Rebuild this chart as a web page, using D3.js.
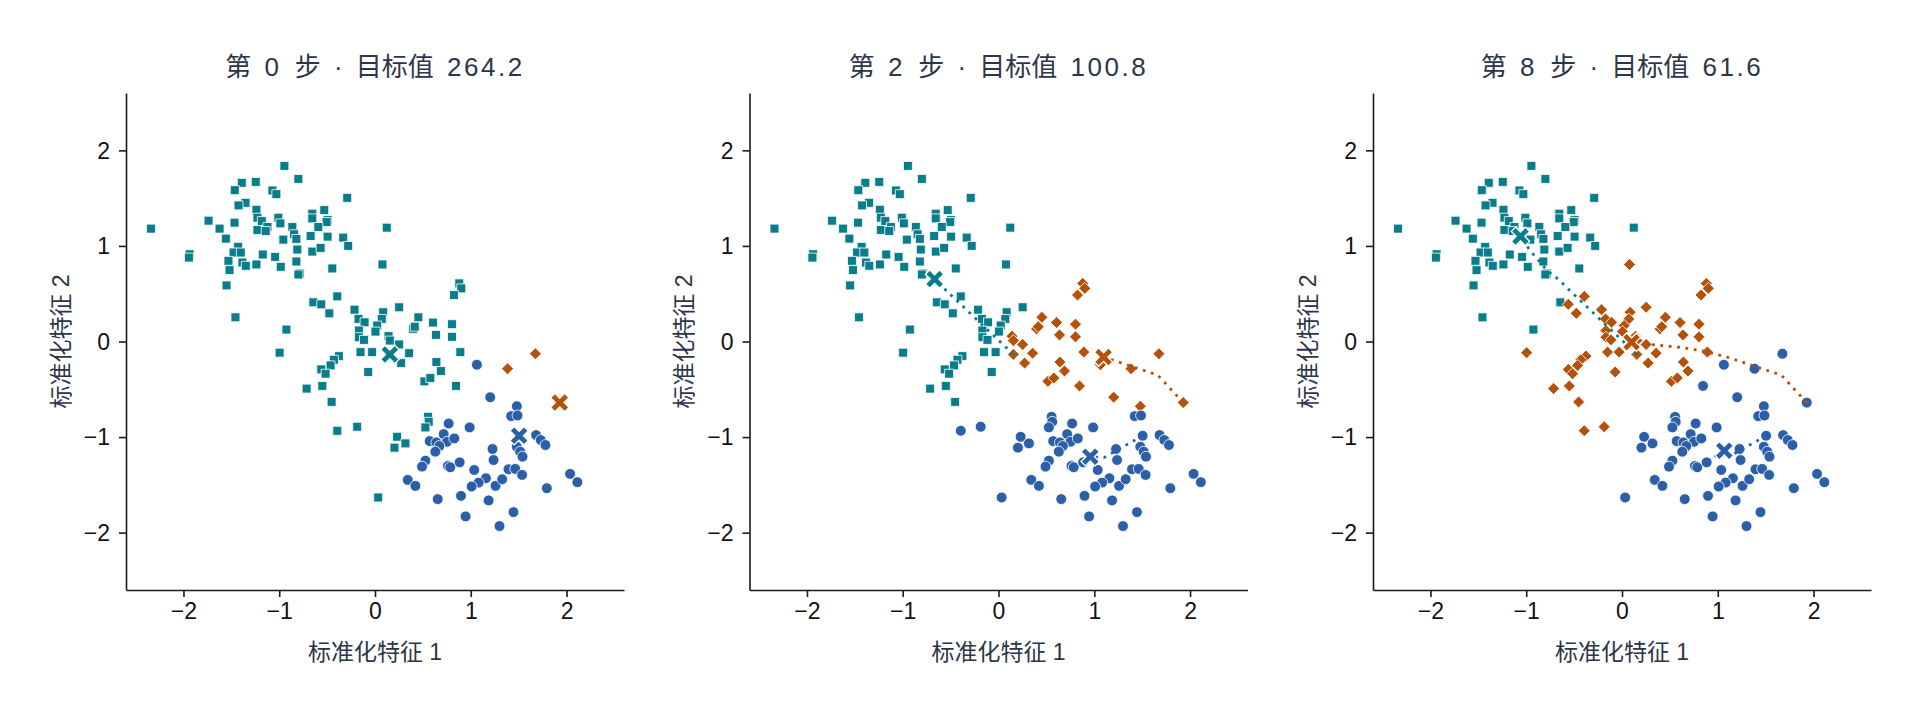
<!DOCTYPE html>
<html>
<head>
<meta charset="utf-8">
<script src="https://cdn.jsdelivr.net/npm/d3@7"></script>
<style>
  body { margin: 0; background: #fff; }
  svg text { font-family: "Liberation Sans", "Noto Sans CJK SC", sans-serif; }
</style>
</head>
<body>
<div id="chart"></div>
<script>
// k-means: three snapshots of the same standardized data
const stepNumbers = [0, 2, 8];
const objectiveValues = ["264.2", "100.8", "61.6"];
const tickValues = [-2, -1, 0, 1, 2];
const xLabel = "标准化特征 1";
const yLabel = "标准化特征 2";

// cluster order: T = teal (square), O = orange (diamond), B = blue (circle)
const clusterKeys = ["T", "O", "B"];
const clusterColors = ["#0a7d8b", "#b4520c", "#2b60a8"];

// [x, y, label at step 0, step 2, step 8]
const points = [
  // upper-left group, teal throughout
  [-0.946, 1.837, "TTT"], [-0.800, 1.701, "TTT"], [-1.391, 1.660, "TTT"], [-1.245, 1.670, "TTT"],
  [-1.464, 1.583, "TTT"], [-1.071, 1.580, "TTT"], [-1.030, 1.542, "TTT"], [-0.290, 1.503, "TTT"],
  [-1.352, 1.451, "TTT"], [-1.425, 1.424, "TTT"], [-1.238, 1.378, "TTT"], [-1.228, 1.295, "TTT"],
  [-1.182, 1.260, "TTT"], [-1.123, 1.198, "TTT"], [-1.228, 1.167, "TTT"], [-1.141, 1.156, "TTT"],
  [-1.009, 1.295, "TTT"], [-0.988, 1.236, "TTT"], [-0.863, 1.198, "TTT"], [-0.845, 1.122, "TTT"],
  [-0.821, 1.073, "TTT"], [-0.957, 1.066, "TTT"], [-0.655, 1.337, "TTT"], [-0.655, 1.288, "TTT"],
  [-0.530, 1.375, "TTT"], [-0.495, 1.271, "TTT"], [-0.505, 1.250, "TTT"], [-0.592, 1.198, "TTT"],
  [-0.672, 1.104, "TTT"], [-0.495, 1.097, "TTT"], [-0.332, 1.087, "TTT"], [-0.280, 1.000, "TTT"],
  [-1.738, 1.264, "TTT"], [-1.623, 1.181, "TTT"], [-1.467, 1.243, "TTT"], [-2.339, 1.181, "TTT"],
  [-1.557, 1.076, "TTT"], [-1.429, 0.990, "TTT"], [-1.477, 0.931, "TTT"], [-1.401, 0.931, "TTT"],
  [-1.530, 0.844, "TTT"], [-1.384, 0.826, "TTT"], [-1.349, 0.792, "TTT"], [-1.519, 0.747, "TTT"],
  [-1.172, 0.910, "TTT"], [-1.238, 0.806, "TTT"], [-1.043, 0.885, "TTT"], [-0.984, 0.781, "TTT"],
  [-0.811, 0.962, "TTT"], [-0.821, 0.837, "TTT"], [-0.655, 0.941, "TTT"], [-0.568, 0.979, "TTT"],
  [-0.786, 0.712, "TTT"], [-0.800, 0.701, "TTT"], [-0.446, 0.764, "TTT"], [0.123, 1.191, "TTT"],
  [-1.936, 0.913, "TTT"], [-1.943, 0.878, "TTT"], [-1.550, 0.587, "TTT"], [-1.457, 0.253, "TTT"],
  [-0.925, 0.125, "TTT"], [-0.644, 0.410, "TTT"],
  // middle band, teal then orange at the end
  [0.078, 0.806, "TTO"], [-0.996, -0.117, "TTO"], [-0.394, 0.472, "TTO"], [-0.561, 0.389, "TTO"],
  [-0.477, 0.295, "TTO"], [-0.214, 0.333, "TTO"], [0.252, 0.358, "TTO"], [0.085, 0.306, "TTO"],
  [0.071, 0.236, "TTO"], [-0.172, 0.236, "TTO"], [-0.109, 0.201, "TTO"], [0.023, 0.167, "TTO"],
  [0.005, 0.104, "TTO"], [-0.168, 0.115, "TTO"], [-0.168, 0.045, "TTO"], [-0.115, 0.017, "TTO"],
  [-0.151, -0.111, "TTO"], [-0.030, -0.111, "TTO"], [-0.377, -0.153, "TTO"], [-0.429, -0.191, "TTO"],
  [-0.464, -0.250, "TTO"], [-0.561, -0.292, "TTO"], [-0.516, -0.337, "TTO"], [-0.071, -0.319, "TTO"],
  [-0.714, -0.493, "TTO"], [-0.550, -0.465, "TTO"], [-0.453, -0.632, "TTO"],
  // right of centre, orange from step 2
  [0.880, 0.608, "TOO"], [0.901, 0.556, "TOO"], [0.825, 0.486, "TOO"], [0.453, 0.253, "TOO"],
  [0.398, 0.132, "TOO"], [0.415, 0.155, "TOO"], [0.606, 0.198, "TOO"], [0.804, 0.181, "TOO"],
  [0.141, 0.056, "TOO"], [0.155, 0.010, "TOO"], [0.637, 0.069, "TOO"], [0.804, 0.049, "TOO"],
  [0.252, -0.031, "TOO"], [0.356, -0.122, "TOO"], [0.891, -0.111, "TOO"], [0.273, -0.226, "TOO"],
  [0.641, -0.215, "TOO"], [0.689, -0.309, "TOO"], [0.516, -0.417, "TOO"], [0.578, -0.382, "TOO"],
  [0.155, -0.135, "TOO"],
  [0.846, -0.465, "TOB"],
  [-0.394, -0.934, "TBO"], [-0.186, -0.892, "TBO"],
  [0.554, -0.788, "TBB"], [0.561, -0.840, "TBB"], [0.526, -0.899, "TBB"], [0.231, -0.997, "TBB"],
  [0.318, -1.066, "TBB"], [0.203, -1.111, "TBB"], [0.033, -1.632, "TBB"],
  [1.384, -0.285, "OOB"], [1.675, -0.128, "OOB"], [1.929, -0.639, "OOB"],
  [1.064, -0.243, "BOB"], [1.203, -0.583, "BOB"], [1.481, -0.677, "BOB"],
  // lower-right group, blue throughout
  [1.422, -0.781, "BBB"], [1.488, -0.774, "BBB"], [0.769, -0.858, "BBB"], [0.988, -0.899, "BBB"],
  [1.682, -0.979, "BBB"], [1.731, -1.031, "BBB"], [1.780, -1.083, "BBB"], [0.571, -1.042, "BBB"],
  [0.641, -1.056, "BBB"], [0.717, -0.969, "BBB"], [0.752, -1.049, "BBB"], [0.828, -1.014, "BBB"],
  [0.672, -1.094, "BBB"], [0.630, -1.153, "BBB"], [1.227, -1.125, "BBB"], [1.238, -1.240, "BBB"],
  [1.481, -1.101, "BBB"], [1.516, -1.153, "BBB"], [1.540, -1.205, "BBB"], [0.526, -1.247, "BBB"],
  [0.491, -1.309, "BBB"], [0.762, -1.302, "BBB"], [0.786, -1.316, "BBB"], [0.884, -1.264, "BBB"],
  [1.036, -1.344, "BBB"], [0.342, -1.448, "BBB"], [0.422, -1.510, "BBB"], [1.158, -1.431, "BBB"],
  [1.082, -1.476, "BBB"], [1.009, -1.517, "BBB"], [1.259, -1.510, "BBB"], [1.328, -1.441, "BBB"],
  [1.394, -1.337, "BBB"], [1.464, -1.333, "BBB"], [1.536, -1.396, "BBB"], [1.794, -1.535, "BBB"],
  [2.037, -1.385, "BBB"], [2.113, -1.472, "BBB"], [0.655, -1.649, "BBB"], [0.898, -1.615, "BBB"],
  [1.186, -1.663, "BBB"], [1.446, -1.785, "BBB"], [0.946, -1.830, "BBB"], [1.300, -1.931, "BBB"],
  [1.505, -0.986, "BBB"]
];

// centroid positions at steps 0..8
const tealPath = [[0.155, -0.135], [-0.50, 0.49], [-0.667, 0.653], [-0.78, 0.74], [-0.88, 0.86],
  [-0.96, 0.95], [-1.01, 1.03], [-1.04, 1.07], [-1.06, 1.10]];
const orangePath = [[1.929, -0.639], [1.663, -0.351], [1.097, -0.163], [0.85, -0.10], [0.60, -0.06],
  [0.38, -0.04], [0.22, -0.02], [0.14, -0.01], [0.10, -0.007]];
const bluePath = [[1.505, -0.986], [1.10, -1.215], [0.958, -1.205], [1.01, -1.18], [1.04, -1.16],
  [1.055, -1.15], [1.062, -1.146], [1.066, -1.143], [1.068, -1.142]];
const centroidPaths = [tealPath, orangePath, bluePath];

const W = 1920, H = 704;
const plotW = 498, plotH = 497, plotTop = 93;
const panelLeft = [126, 749.5, 1373];
const inkColor = "#2d3648";

const svg = d3.select("#chart").append("svg")
  .attr("width", W)
  .attr("height", H);

const x = d3.scaleLinear().domain([-2.6, 2.6]).range([0, plotW]);
const y = d3.scaleLinear().domain([-2.6, 2.6]).range([plotH, 0]);
const fmt = d => (d < 0 ? "\u2212" + Math.abs(d) : String(d));

const symbols = [
  d3.symbol().type(d3.symbolSquare).size(80)(),
  d3.symbol().type(d3.symbolSquare).size(72)(),
  d3.symbol().type(d3.symbolCircle).size(92)()
];
const symbolRotate = [0, 45, 0];

// filled "X" marker
function crossPath(L, w) {
  const pts = [[L, w], [w, w], [w, L], [-w, L], [-w, w], [-L, w], [-L, -w], [-w, -w], [-w, -L], [w, -L], [w, -w], [L, -w]];
  const c = Math.SQRT1_2;
  return "M" + pts.map(([a, b]) => [(a - b) * c, (a + b) * c].join(",")).join("L") + "Z";
}

stepNumbers.forEach((step, i) => {
  const g = svg.append("g").attr("transform", `translate(${panelLeft[i]},${plotTop})`);

  // axes
  const ax = g.append("g").attr("transform", `translate(0,${plotH})`)
    .call(d3.axisBottom(x).tickValues(tickValues).tickFormat(fmt).tickSize(7).tickSizeOuter(0).tickPadding(6));
  const ay = g.append("g")
    .call(d3.axisLeft(y).tickValues(tickValues).tickFormat(fmt).tickSize(7).tickSizeOuter(0).tickPadding(9));
  [ax, ay].forEach(a => {
    a.select(".domain").attr("stroke", "#1a1a1a").attr("stroke-width", 1.6);
    a.selectAll(".tick line").attr("stroke", "#1a1a1a").attr("stroke-width", 1.6);
    a.selectAll(".tick text").attr("fill", "#111").attr("font-size", 23);
  });
  ay.selectAll(".tick text").attr("dy", "0.34em");

  // points
  g.append("g").selectAll("path")
    .data(points)
    .enter().append("path")
    .attr("d", d => symbols[clusterKeys.indexOf(d[2][i])])
    .attr("transform", d => {
      const k = clusterKeys.indexOf(d[2][i]);
      return `translate(${x(d[0])},${y(d[1])}) rotate(${symbolRotate[k]})`;
    })
    .attr("fill", d => clusterColors[clusterKeys.indexOf(d[2][i])])
    .attr("stroke", "#fff")
    .attr("stroke-width", 0.8);

  // centroid trajectories
  const line = d3.line().x(d => x(d[0])).y(d => y(d[1])).curve(d3.curveLinear);
  centroidPaths.forEach((path, k) => {
    g.append("path")
      .attr("d", line(path.slice(0, step + 1)))
      .attr("fill", "none")
      .attr("stroke", clusterColors[k])
      .attr("stroke-width", 2.8)
      .attr("stroke-dasharray", "2.8 5.6");
  });

  // current centroids
  g.append("g").selectAll("path")
    .data(centroidPaths)
    .enter().append("path")
    .attr("d", crossPath(9.3, 2.4))
    .attr("transform", d => `translate(${x(d[step][0])},${y(d[step][1])})`)
    .attr("fill", (d, k) => clusterColors[k])
    .attr("stroke", "#fff")
    .attr("stroke-width", 2.6)
    .attr("paint-order", "stroke")
    .attr("stroke-linejoin", "miter");

  // title and axis labels
  const title = g.append("text")
    .attr("x", plotW / 2)
    .attr("y", -26.5)
    .attr("dy", "0.35em")
    .attr("text-anchor", "middle")
    .attr("fill", inkColor)
    .attr("font-size", 26)
    .attr("word-spacing", 6);
  title.append("tspan").text("第 ");
  title.append("tspan").attr("letter-spacing", 2.5).text(String(step));
  title.append("tspan").text(" 步 · 目标值 ");
  title.append("tspan").attr("letter-spacing", 2.5).text(objectiveValues[i]);

  g.append("text")
    .attr("x", plotW / 2)
    .attr("y", plotH + 62)
    .attr("dy", "0.35em")
    .attr("text-anchor", "middle")
    .attr("fill", inkColor)
    .attr("font-size", 23)
    .text(xLabel);

  g.append("text")
    .attr("transform", `translate(-65.5,${plotH / 2}) rotate(-90)`)
    .attr("dy", "0.35em")
    .attr("text-anchor", "middle")
    .attr("fill", inkColor)
    .attr("font-size", 23)
    .text(yLabel);
});
</script>
</body>
</html>
